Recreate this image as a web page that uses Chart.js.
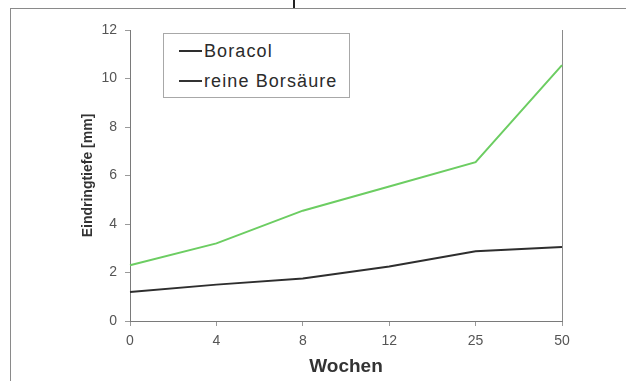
<!DOCTYPE html>
<html>
<head>
<meta charset="utf-8">
<script src="https://cdn.jsdelivr.net/npm/chart.js@4/dist/chart.umd.min.js"></script>
<style>
  html, body { margin: 0; padding: 0; background: #fff; }
  #wrap { position: relative; width: 626px; height: 383px; overflow: hidden; font-family: "Liberation Sans", Arial, sans-serif; }
  #frame { position: absolute; left: 10px; top: 8px; width: 640px; height: 372px; border-left: 1px solid #8a8a8a; border-top: 1px solid #8a8a8a; }
  #mark { position: absolute; left: 293px; top: 0; width: 2px; height: 8px; background: #222; }
  #chart { position: absolute; left: 0; top: 0; }
  #legend { position: absolute; left: 163px; top: 33px; width: 187px; height: 65px; border: 1px solid #a8a8a8; background: #fff; box-sizing: border-box; }
  .row { position: absolute; left: 15px; height: 20px; display: flex; align-items: center; font-size: 18px; color: #2b2b2b; letter-spacing: 1.1px; }
  .row span.ln { display: inline-block; width: 23px; height: 2px; margin-right: 2px; }
</style>
</head>
<body>
<div id="wrap">
  <div id="frame"></div>
  <div id="mark"></div>
  <canvas id="chart" width="626" height="383"></canvas>
  <div id="legend"></div>
</div>
<script>
  // Wochen
  let weeks = ['0', '4', '8', '12', '25', '50'];
  // Eindringtiefe [mm]
  let boracol = [1.2, 1.5, 1.75, 2.25, 2.88, 3.05];
  let borsaeure = [2.3, 3.2, 4.55, 5.55, 6.55, 10.55];
  let seriesNames = ['Boracol', 'reine Borsäure'];
  let seriesColors = ['#2e2e2e', '#6ccd62'];
  let legendColors = ['#2e2e2e', '#333333'];

  const font = '"Liberation Sans", Arial, sans-serif';

  let chart = new Chart(document.getElementById('chart'), {
    type: 'line',
    data: {
      labels: weeks,
      datasets: [
        { label: seriesNames[0], data: boracol, borderColor: seriesColors[0], borderWidth: 2, pointRadius: 0, tension: 0 },
        { label: seriesNames[1], data: borsaeure, borderColor: seriesColors[1], borderWidth: 2, pointRadius: 0, tension: 0 }
      ]
    },
    options: {
      responsive: false,
      animation: false,
      layout: { padding: { left: 0, right: 64, top: 30, bottom: 0 } },
      plugins: { legend: { display: false }, tooltip: { enabled: false } },
      scales: {
        x: {
          offset: false,
          afterFit: function (s) { s.height = 62; },
          grid: {
            drawOnChartArea: true,
            color: (c) => c.index === weeks.length - 1 ? '#8a8a8a' : 'rgba(0,0,0,0)',
            tickColor: '#9a9a9a',
            tickLength: 5
          },
          border: { color: '#7a7a7a', width: 1 },
          ticks: { color: '#555', padding: 7, font: { family: font, size: 14 }, maxRotation: 0 },
          title: { display: true, text: 'Wochen', color: '#333', padding: { bottom: 5 }, font: { family: font, size: 19, weight: 'bold' } }
        },
        y: {
          min: 0,
          max: 12,
          afterFit: function (s) { s.width = 130; },
          grid: { drawOnChartArea: false, tickColor: '#9a9a9a', tickLength: 5 },
          border: { color: '#7a7a7a', width: 1 },
          ticks: { stepSize: 2, color: '#555', padding: 8, font: { family: font, size: 14 } },
          title: { display: true, text: 'Eindringtiefe [mm]', color: '#333', padding: { top: 80 }, font: { family: font, size: 14, weight: 'bold' } }
        }
      }
    }
  });

  // legend box inside the plot, like the original
  let legend = document.getElementById('legend');
  seriesNames.forEach((name, i) => {
    let row = document.createElement('div');
    row.className = 'row';
    row.style.top = (7 + i * 30) + 'px';
    row.innerHTML = '<span class="ln" style="background:' + legendColors[i] + '"></span>' + name;
    legend.appendChild(row);
  });
</script>
</body>
</html>
